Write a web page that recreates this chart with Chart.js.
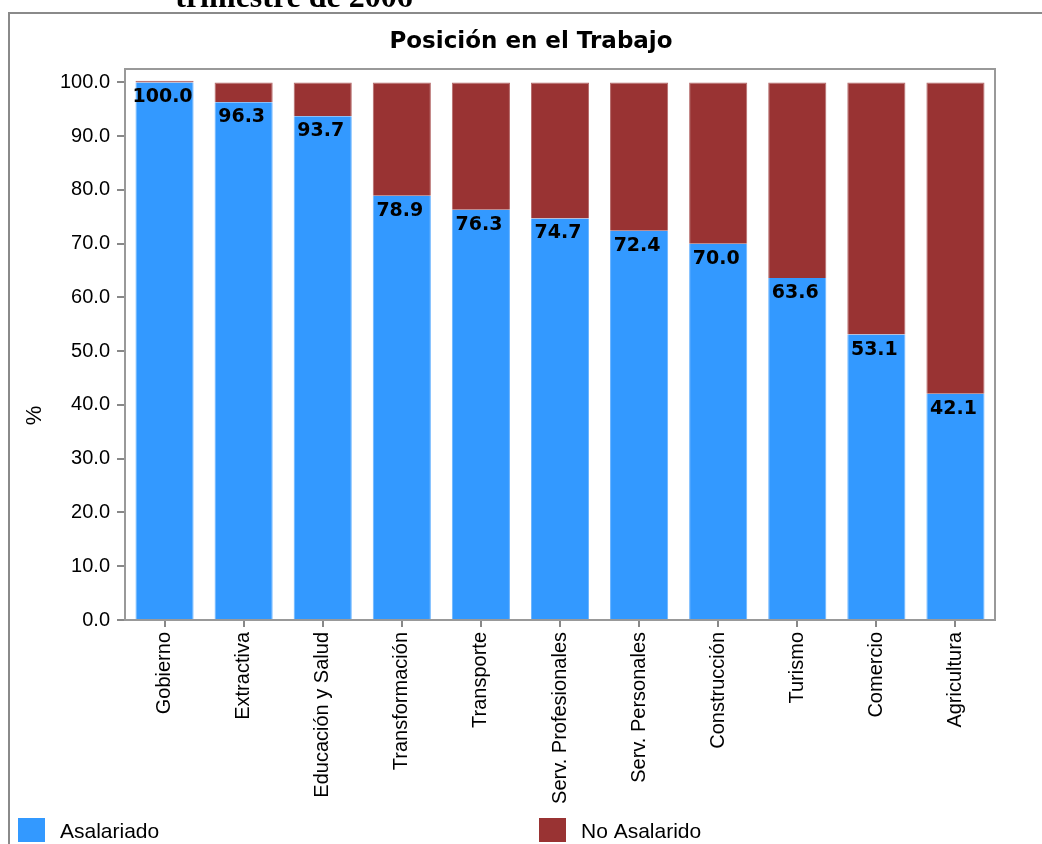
<!DOCTYPE html>
<html>
<head>
<meta charset="utf-8">
<script src="https://cdn.jsdelivr.net/npm/chart.js@4"></script>
<style>
  html, body { margin: 0; padding: 0; background: #fff; overflow: hidden; }
  #chart { display: block; }
</style>
</head>
<body>
<canvas id="chart" width="1042" height="844"></canvas>
<script>
// sectores y porcentajes
var sectores = ['Gobierno', 'Extractiva', 'Educación y Salud', 'Transformación', 'Transporte',
  'Serv. Profesionales', 'Serv. Personales', 'Construcción', 'Turismo', 'Comercio', 'Agricultura'];
var asalariado = [100.0, 96.3, 93.7, 78.9, 76.3, 74.7, 72.4, 70.0, 63.6, 53.1, 42.1];
var noAsalarido = [0.3, 3.7, 6.3, 21.1, 23.7, 25.3, 27.6, 30.0, 36.4, 46.9, 57.9];
var yTicks = [0, 10, 20, 30, 40, 50, 60, 70, 80, 90, 100];

var azul = '#3399FF';
var rojo = '#993333';

// marco, titulos, etiquetas y leyenda que chart.js no pone donde queremos
var extras = {
  id: 'extras',
  beforeDraw: function (chart) {
    var ctx = chart.ctx;
    ctx.save();
    ctx.fillStyle = '#fff';
    ctx.fillRect(0, 0, chart.width, chart.height);
    // caja exterior (se sale de la pantalla por la derecha y abajo)
    ctx.strokeStyle = '#8a8a8a';
    ctx.lineWidth = 2;
    ctx.strokeRect(9, 13, chart.width + 20, chart.height + 20);
    // encabezado cortado arriba
    ctx.fillStyle = '#000';
    ctx.font = 'bold 32px "Liberation Serif"';
    ctx.textAlign = 'center';
    ctx.textBaseline = 'alphabetic';
    ctx.fillText('trimestre de 2006', 294, 7);
    // titulo
    ctx.font = 'bold 23px "DejaVu Sans"';
    ctx.fillText('Posición en el Trabajo', 531, 48);
    ctx.restore();
  },
  afterDatasetsDraw: function (chart) {
    var ctx = chart.ctx;
    var a = chart.chartArea;
    ctx.save();
    ctx.strokeStyle = '#999';
    ctx.lineWidth = 2;
    ctx.strokeRect(a.left, a.top, a.right - a.left, a.bottom - a.top);
    ctx.fillStyle = '#000';
    ctx.font = 'bold 19px "DejaVu Sans"';
    ctx.textAlign = 'center';
    ctx.textBaseline = 'alphabetic';
    chart.getDatasetMeta(0).data.forEach(function (bar, i) {
      ctx.fillText(asalariado[i].toFixed(1), bar.x - 2, bar.y + 20);
    });
    ctx.restore();
  },
  afterDraw: function (chart) {
    var ctx = chart.ctx;
    ctx.save();
    // titulo del eje y
    var legY = chart.height - 26;
    ctx.translate(35, (13 + legY) / 2);
    ctx.rotate(-Math.PI / 2);
    ctx.fillStyle = '#000';
    ctx.font = '22px "Liberation Sans"';
    ctx.textAlign = 'center';
    ctx.textBaseline = 'middle';
    ctx.fillText('%', 0, 0);
    ctx.restore();

    // leyenda en dos columnas
    ctx.save();
    var cols = [18, chart.width / 2 + 18];
    ctx.font = '21px "Liberation Sans"';
    ctx.textBaseline = 'alphabetic';
    chart.data.datasets.forEach(function (ds, i) {
      ctx.fillStyle = ds.backgroundColor;
      ctx.fillRect(cols[i], legY, 27, 24);
      ctx.fillStyle = '#000';
      ctx.fillText(ds.label, cols[i] + 42, legY + 20);
    });
    ctx.restore();
  }
};

var chart = new Chart(document.getElementById('chart'), {
  type: 'bar',
  data: {
    labels: sectores,
    datasets: [
      { label: 'Asalariado', data: asalariado, backgroundColor: azul,
        borderColor: '#6ab4ff', borderWidth: { left: 1, right: 1, top: 0, bottom: 0 },
        barPercentage: 0.735, categoryPercentage: 1 },
      { label: 'No Asalarido', data: noAsalarido, backgroundColor: rojo,
        borderColor: '#b56a6a', borderWidth: { left: 1, right: 1, top: 1, bottom: 0 },
        barPercentage: 0.735, categoryPercentage: 1 }
    ]
  },
  options: {
    responsive: false,
    animation: false,
    layout: { padding: { top: 69, left: 0, right: 47, bottom: 0 } },
    plugins: {
      legend: { display: false },
      title: { display: false },
      tooltip: { enabled: false }
    },
    scales: {
      x: {
        stacked: true,
        grid: { display: true, offset: false, drawOnChartArea: false, drawTicks: true, tickLength: 7, color: '#888', lineWidth: 2 },
        border: { display: true, color: '#999', width: 2 },
        ticks: { minRotation: 90, maxRotation: 90, autoSkip: false, padding: 5, color: '#000',
          font: { family: 'Liberation Sans', size: 20 } },
        afterFit: function (s) { s.height = 224; }
      },
      y: {
        stacked: true,
        min: 0,
        max: 102.5,
        grid: { display: true, drawOnChartArea: false, drawTicks: true, tickLength: 8, color: '#888', lineWidth: 2 },
        border: { display: true, color: '#999', width: 2 },
        ticks: { stepSize: 10, includeBounds: false, padding: 7, color: '#000',
          font: { family: 'Liberation Sans', size: 20 },
          callback: function (v) { return Number(v).toFixed(1); } },
        afterBuildTicks: function (s) {
          s.ticks = yTicks.map(function (v) { return { value: v }; });
        },
        afterFit: function (s) { s.width = 125; }
      }
    }
  },
  plugins: [extras]
});
</script>
</body>
</html>
